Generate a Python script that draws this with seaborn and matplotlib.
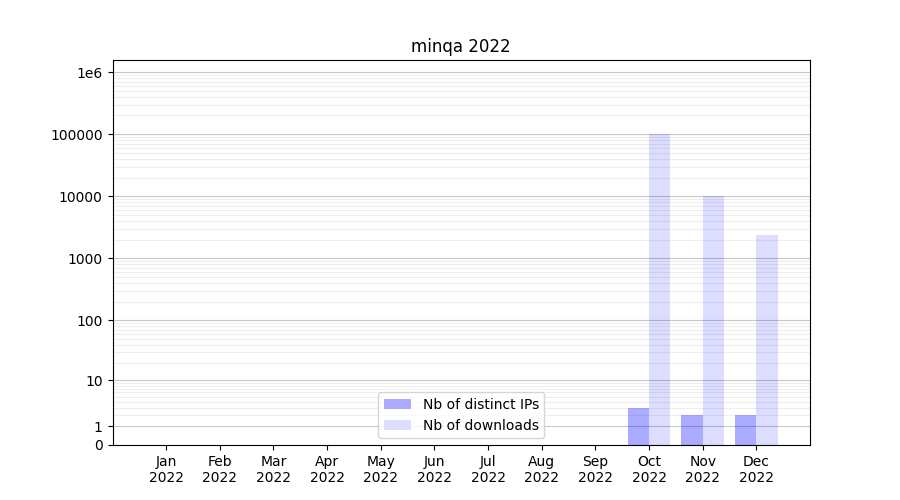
import numpy as np
import pandas as pd
import matplotlib
matplotlib.use("Agg")
import matplotlib.pyplot as plt
import seaborn as sns
from matplotlib.ticker import FixedLocator, FixedFormatter

# dados
months = ["Jan\n2022", "Feb\n2022", "Mar\n2022", "Apr\n2022", "May\n2022", "Jun\n2022",
          "Jul\n2022", "Aug\n2022", "Sep\n2022", "Oct\n2022", "Nov\n2022", "Dec\n2022"]
distinct_ips = [0, 0, 0, 0, 0, 0, 0, 0, 0, 3, 2, 2]
downloads = [0, 0, 0, 0, 0, 0, 0, 0, 0, 100000, 10000, 2400]
series_names = ["Nb of distinct IPs", "Nb of downloads"]
colors = ["#aaaaff", "#ddddff"]
alphas = [0.33, 0.135]

ytick_values = [0, 1, 10, 100, 1000, 10000, 100000, 1000000]
ytick_labels = ["0", "1", "10", "100", "1000", "10000", "100000", "1e6"]

df = pd.DataFrame({
    "month": months * 2,
    "value": distinct_ips + downloads,
    "serie": [series_names[0]] * len(months) + [series_names[1]] * len(months),
})

fig, ax = plt.subplots(figsize=(9, 5), dpi=100)
sns.barplot(data=df, x="month", y="value", hue="serie", order=months,
            hue_order=series_names, palette=colors, saturation=1, width=0.8,
            ax=ax)

# barras semi-transparentes (a grade aparece por trás)
for cont, a in zip(ax.containers, alphas):
    for p in cont:
        p.set_facecolor((0, 0, 1, a))
        p.set_edgecolor("none")
        p.set_linewidth(0)

# escala log(x+1)
ax.set_yscale("function", functions=(lambda v: np.log10(np.asarray(v) + 1),
                                     lambda v: 10 ** np.asarray(v) - 1))
ax.set_ylim(0, 1.56e6)
ax.set_xlim(-1, 12)

minor = [k * 10 ** d for d in range(0, 6) for k in range(2, 10)]
ax.yaxis.set_major_locator(FixedLocator(ytick_values))
ax.yaxis.set_major_formatter(FixedFormatter(ytick_labels))
ax.yaxis.set_minor_locator(FixedLocator(minor))
ax.tick_params(axis="y", which="minor", length=0)

ax.set_axisbelow(True)
ax.grid(axis="y", which="major", color="#c8c8c8", linewidth=0.8)
ax.grid(axis="y", which="minor", color="#eeeeee", linewidth=0.8)

ax.set_xlabel("")
ax.set_ylabel("")
ax.set_title("minqa 2022")
ax.legend(loc="lower center")

plt.savefig("out.png", dpi=100)
